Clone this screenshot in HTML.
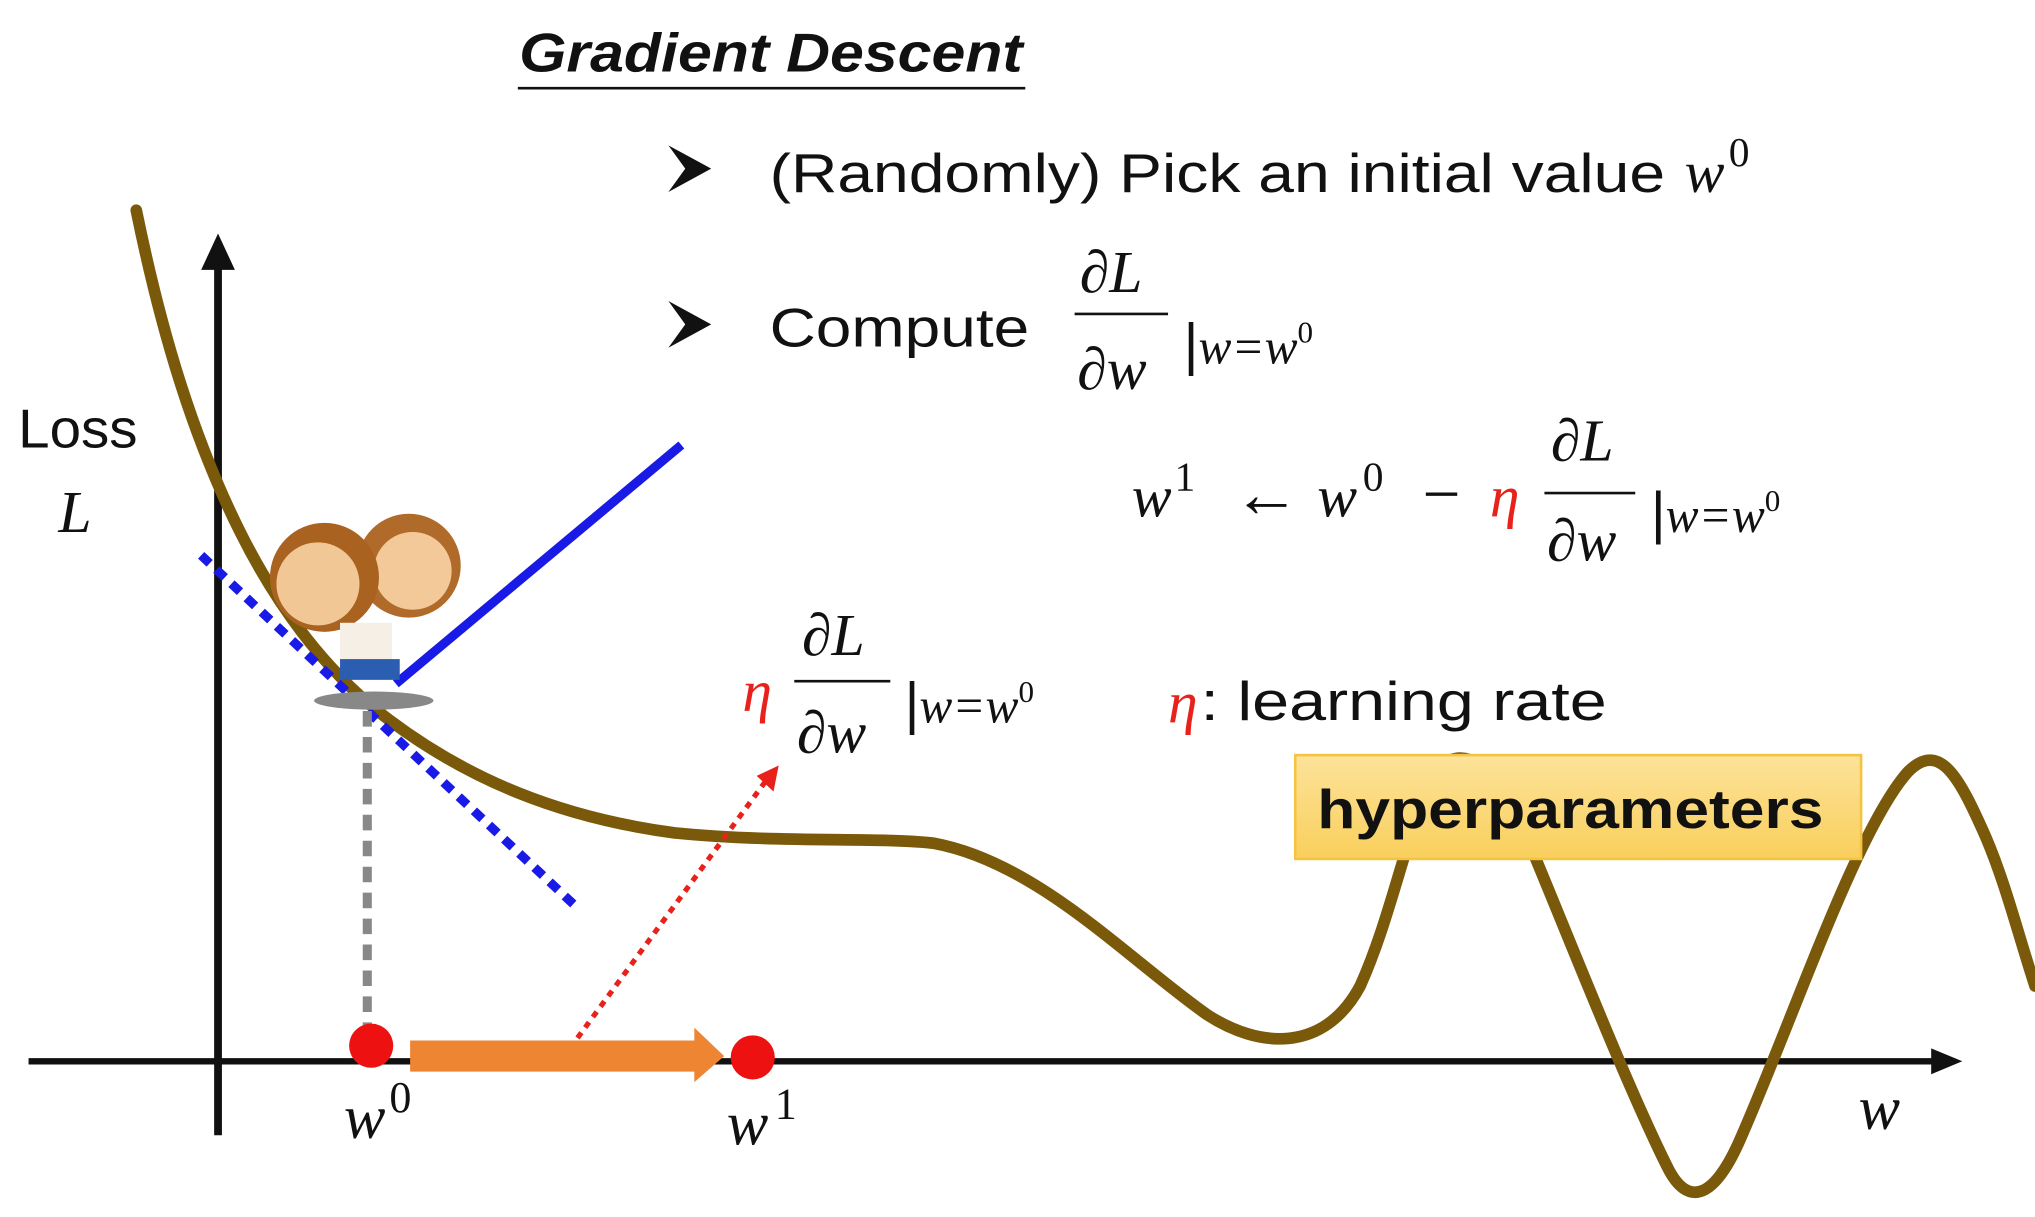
<!DOCTYPE html>
<html><head><meta charset="utf-8"><style>
html,body{margin:0;padding:0;background:#fff;}
svg{display:block;}
text{font-family:"Liberation Sans",sans-serif;}
.m{font-family:"Liberation Serif",serif;font-style:italic;}
.u{font-family:"Liberation Serif",serif;font-style:normal;}
</style></head><body>
<svg width="2035" height="1217" viewBox="0 0 1568 938" preserveAspectRatio="none" xmlns="http://www.w3.org/2000/svg">
<defs>
<linearGradient id="hg" x1="0" y1="0" x2="0" y2="1"><stop offset="0" stop-color="#fde39a"/><stop offset="1" stop-color="#f9cf5c"/></linearGradient>
</defs>
<text x="400" y="55" font-size="42" font-weight="bold" font-style="italic" fill="#111" textLength="388" lengthAdjust="spacingAndGlyphs">Gradient Descent</text>
<line x1="399" y1="68" x2="790" y2="68" stroke="#111" stroke-width="2"/>

<path d="M515,112 L548,130 L515,148 L528,130 Z" fill="#111"/>
<text x="593" y="148" font-size="42" fill="#111" textLength="690" lengthAdjust="spacingAndGlyphs">(Randomly) Pick an initial value</text>
<text class="m" x="1298" y="148" font-size="46" fill="#111">w</text>
<text class="u" x="1332" y="128" font-size="32" fill="#111">0</text>

<path d="M515,232 L548,250 L515,268 L528,250 Z" fill="#111"/>
<text x="593" y="267" font-size="42" fill="#111" textLength="200" lengthAdjust="spacingAndGlyphs">Compute</text>
<text class="m" x="832" y="225" font-size="46" fill="#111">∂L</text>
<line x1="828" y1="242" x2="900" y2="242" stroke="#111" stroke-width="2"/>
<text class="m" x="830" y="300" font-size="46" fill="#111">∂w</text>
<text x="912" y="280" font-size="44" fill="#111">|<tspan class="m" font-size="38">w=w</tspan><tspan class="u" font-size="24" dy="-16">0</tspan></text>

<g>
<text class="m" x="872" y="398" font-size="46" fill="#111">w</text>
<text class="u" x="905" y="378" font-size="32" fill="#111">1</text>
<text class="u" x="950" y="398" font-size="52" fill="#111">←</text>
<text class="m" x="1015" y="398" font-size="46" fill="#111">w</text>
<text class="u" x="1050" y="378" font-size="32" fill="#111">0</text>
<text class="u" x="1096" y="398" font-size="52" fill="#111">−</text>
<text class="m" x="1148" y="398" font-size="46" fill="#e8221b">η</text>
<text class="m" x="1195" y="355" font-size="46" fill="#111">∂L</text>
<line x1="1190" y1="380" x2="1260" y2="380" stroke="#111" stroke-width="2"/>
<text class="m" x="1192" y="432" font-size="46" fill="#111">∂w</text>
<text x="1272" y="410" font-size="44" fill="#111">|<tspan class="m" font-size="38">w=w</tspan><tspan class="u" font-size="24" dy="-16">0</tspan></text>
</g>

<text x="14" y="345" font-size="42" fill="#111" textLength="92" lengthAdjust="spacingAndGlyphs">Loss</text>
<text class="m" x="45" y="410" font-size="46" fill="#111">L</text>

<line x1="168" y1="875" x2="168" y2="200" stroke="#111" stroke-width="6"/>
<path d="M155,208 L168,180 L181,208 Z" fill="#111"/>
<line x1="22" y1="818" x2="1495" y2="818" stroke="#111" stroke-width="5"/>
<path d="M1488,808 L1512,818 L1488,828 Z" fill="#111"/>

<path d="M105,162 C125,260 150,340 185,410 C220,480 260,525 300,555 C360,600 430,630 520,642 C600,650 680,645 720,650 C800,665 870,740 930,782 C970,808 1020,812 1048,760 C1075,700 1085,630 1110,590 C1130,575 1150,590 1170,630 C1200,700 1250,830 1285,900 C1300,930 1320,925 1340,880 C1380,790 1430,640 1470,595 C1495,570 1510,600 1530,645 C1545,680 1555,720 1568,760" fill="none" stroke="#7a5a0a" stroke-width="9" stroke-linecap="round"/>

<line x1="155" y1="428" x2="442" y2="697" stroke="#1a1ae6" stroke-width="7" stroke-dasharray="9,7"/>
<line x1="305" y1="527" x2="525" y2="343" stroke="#1a1ae6" stroke-width="7"/>
<line x1="283" y1="548" x2="283" y2="800" stroke="#888" stroke-width="7" stroke-dasharray="12,8"/>

<g>
<ellipse cx="288" cy="540" rx="46" ry="7" fill="#888"/>
<circle cx="315" cy="436" r="40" fill="#b06a2a"/><circle cx="318" cy="440" r="30" fill="#f3c99a"/>
<circle cx="250" cy="445" r="42" fill="#a9621f"/><circle cx="245" cy="450" r="32" fill="#f2c796"/>
<rect x="262" y="480" width="40" height="30" fill="#f5efe6"/>
<rect x="262" y="508" width="46" height="16" fill="#2b5db0"/>
</g>

<circle cx="286" cy="806" r="17" fill="#ee1111"/>
<path d="M316,802 L535,802 L535,792 L558,814 L535,834 L535,826 L316,826 Z" fill="#ee8533"/>
<circle cx="580" cy="815" r="17" fill="#ee1111"/>
<line x1="445" y1="800" x2="590" y2="602" stroke="#e8221b" stroke-width="4" stroke-dasharray="5,5"/>
<path d="M583,598 L600,590 L596,610 Z" fill="#e8221b"/>

<text class="m" x="572" y="548" font-size="46" fill="#e8221b">η</text>
<text class="m" x="618" y="505" font-size="46" fill="#111">∂L</text>
<line x1="612" y1="525" x2="686" y2="525" stroke="#111" stroke-width="2"/>
<text class="m" x="614" y="580" font-size="46" fill="#111">∂w</text>
<text x="697" y="557" font-size="44" fill="#111">|<tspan class="m" font-size="38">w=w</tspan><tspan class="u" font-size="24" dy="-16">0</tspan></text>

<text class="m" x="900" y="557" font-size="46" fill="#e8221b">η</text>
<text x="925" y="555" font-size="42" fill="#111" textLength="313" lengthAdjust="spacingAndGlyphs">: learning rate</text>

<rect x="998" y="582" width="436" height="80" fill="url(#hg)" stroke="#f5c342" stroke-width="2"/>
<text x="1015" y="638" font-size="42" font-weight="bold" fill="#111" textLength="390" lengthAdjust="spacingAndGlyphs">hyperparameters</text>

<text class="m" x="265" y="877" font-size="48" fill="#111">w</text>
<text class="u" x="300" y="857" font-size="34" fill="#111">0</text>
<text class="m" x="560" y="882" font-size="48" fill="#111">w</text>
<text class="u" x="597" y="862" font-size="34" fill="#111">1</text>
<text class="m" x="1432" y="870" font-size="48" fill="#111">w</text>
</svg>
</body></html>
